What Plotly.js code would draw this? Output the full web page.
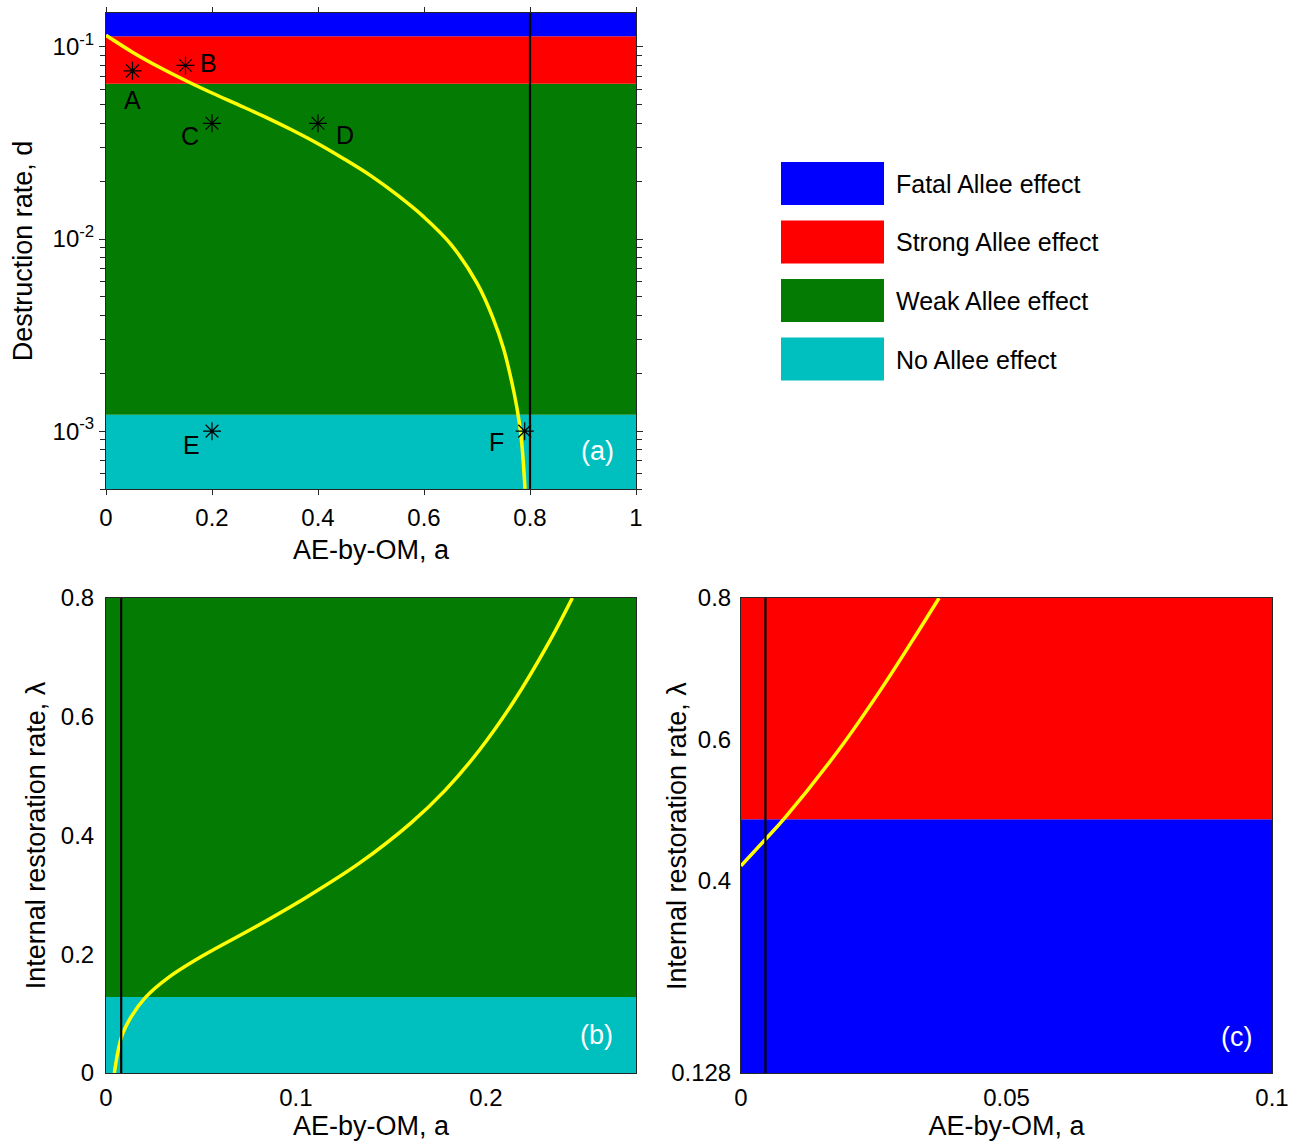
<!DOCTYPE html>
<html><head><meta charset="utf-8">
<script src="https://cdn.plot.ly/plotly-3.0.1.min.js"></script>
<style>body{margin:0;padding:0;background:#fff}#chart{width:1302px;height:1143px}</style>
</head><body><div id="chart"></div>
<script>
// ---------- Panel (a): destruction rate d vs AE-by-OM a ----------
const curveA_a = [0, 0.05, 0.10, 0.15, 0.20, 0.25, 0.30, 0.35, 0.40, 0.45, 0.50, 0.55, 0.60, 0.65, 0.70, 0.73, 0.75, 0.77, 0.78, 0.785, 0.7906];
const curveA_d = [0.1148, 0.0938, 0.0785, 0.0668, 0.0575, 0.0499, 0.0432, 0.0370, 0.0313, 0.0260, 0.0213, 0.0169, 0.0130, 0.00944, 0.00589, 0.00389, 0.00269, 0.00158, 0.00110, 0.000832, 0.000501];
const bandA_edges = [5e-4, 0.001217, 0.0643, 0.1135, 0.15];
const bandA_classes = ['No', 'Weak', 'Strong', 'Fatal'];
const pointLabels = ['A', 'B', 'C', 'D', 'E', 'F'];
const points_a = [0.05, 0.15, 0.2, 0.4, 0.2, 0.79];
const points_d = [0.075, 0.08, 0.04, 0.04, 0.001, 0.001];
const vlineA = 0.8;
const xTicksA = [0, 0.2, 0.4, 0.6, 0.8, 1];
const xTickTextA = ['0', '0.2', '0.4', '0.6', '0.8', '1'];
const yTicksA = [0.001, 0.01, 0.1];
const yTickTextA = ['10<sup>-3</sup>', '10<sup>-2</sup>', '10<sup>-1</sup>'];

// ---------- Panel (b): internal restoration rate vs a ----------
const curveB_a = [0.0044, 0.0082, 0.0133, 0.0208, 0.0335, 0.0516, 0.0788, 0.106, 0.1332, 0.1603, 0.1785, 0.1966, 0.2147, 0.2328, 0.2455];
const curveB_l = [0.0, 0.061, 0.095, 0.1274, 0.1622, 0.1987, 0.2464, 0.297, 0.353, 0.4205, 0.476, 0.544, 0.626, 0.723, 0.80];
const bandB_edges = [0, 0.128, 0.8];
const bandB_classes = ['No', 'Weak'];
const vlineB = 0.008;
const xRangeB = [0, 0.279];
const xTicksB = [0, 0.1, 0.2];
const xTickTextB = ['0', '0.1', '0.2'];
const yTicksB = [0, 0.2, 0.4, 0.6, 0.8];
const yTickTextB = ['0', '0.2', '0.4', '0.6', '0.8'];

// ---------- Panel (c) ----------
const curveC_a = [0, 0.0046, 0.0081, 0.0185, 0.0262, 0.0323, 0.0373];
const curveC_l = [0.421, 0.4585, 0.4875, 0.586, 0.669, 0.740, 0.80];
const bandC_edges = [0.128, 0.487, 0.8];
const bandC_classes = ['Fatal', 'Strong'];
const vlineC = 0.0046;
const xRangeC = [0, 0.1];
const xTicksC = [0, 0.05, 0.1];
const xTickTextC = ['0', '0.05', '0.1'];
const yTicksC = [0.128, 0.4, 0.6, 0.8];
const yTickTextC = ['0.128', '0.4', '0.6', '0.8'];

// ---------- Legend ----------
const legendClasses = ['Fatal', 'Strong', 'Weak', 'No'];
const legendLabels = ['Fatal Allee effect', 'Strong Allee effect', 'Weak Allee effect', 'No Allee effect'];

const classColor = {Fatal: '#0000ff', Strong: '#ff0000', Weak: '#047c04', No: '#00bfbf'};
const FONT = 'Arial, "Liberation Sans", sans-serif';
const W = 1302, H = 1143;
const px = v => v / W, py = v => 1 - v / H;

const traces = [];
function bands(edges, classes, xr, xa, ya) {
  for (let i = 0; i < classes.length; i++) {
    traces.push({type: 'scatter', mode: 'lines', xaxis: xa, yaxis: ya,
      x: [xr[0], xr[1], xr[1], xr[0], xr[0]],
      y: [edges[i], edges[i], edges[i + 1], edges[i + 1], edges[i]],
      fill: 'toself', fillcolor: classColor[classes[i]], line: {width: 0},
      hoverinfo: 'skip', showlegend: false});
  }
}
bands(bandA_edges, bandA_classes, [0, 1], 'x', 'y');
bands(bandB_edges, bandB_classes, xRangeB, 'x2', 'y2');
bands(bandC_edges, bandC_classes, xRangeC, 'x3', 'y3');

function curve(x, y, xa, ya) {
  traces.push({type: 'scatter', mode: 'lines', x: x, y: y, xaxis: xa, yaxis: ya,
    line: {color: '#ffff00', width: 3.5, shape: 'spline', smoothing: 1}, showlegend: false});
}
function vline(v, yr, xa, ya) {
  traces.push({type: 'scatter', mode: 'lines', x: [v, v], y: yr, xaxis: xa, yaxis: ya,
    line: {color: '#000000', width: 2.2}, showlegend: false});
}
curve(curveA_a, curveA_d, 'x', 'y');
vline(vlineA, [bandA_edges[0], bandA_edges[bandA_edges.length - 1]], 'x', 'y');
curve(curveB_a, curveB_l, 'x2', 'y2');
vline(vlineB, [bandB_edges[0], bandB_edges[bandB_edges.length - 1]], 'x2', 'y2');
curve(curveC_a, curveC_l, 'x3', 'y3');
vline(vlineC, [bandC_edges[0], bandC_edges[bandC_edges.length - 1]], 'x3', 'y3');

traces.push({type: 'scatter', mode: 'markers', x: points_a, y: points_d, xaxis: 'x', yaxis: 'y',
  marker: {symbol: 'asterisk-open', size: 15, color: '#000', line: {color: '#000', width: 1.2}},
  text: pointLabels, showlegend: false});

// annotations
const labelShift = {A: [0, -29], B: [23, 2], C: [-22, -13], D: [27, -12], E: [-21, -14], F: [-28, -11]};
const annotations = pointLabels.map((l, i) => ({
  xref: 'x', yref: 'y', x: points_a[i], y: Math.log10(points_d[i]), text: l, showarrow: false,
  xanchor: 'center', yanchor: 'middle',
  xshift: labelShift[l][0], yshift: labelShift[l][1], font: {family: FONT, size: 25, color: '#000'}
}));
const panelTag = (t, x, y) => ({xref: 'paper', yref: 'paper', x: px(x), y: py(y), xanchor: 'center', yanchor: 'middle',
  text: t, showarrow: false, font: {family: FONT, size: 27, color: '#fff'}});
annotations.push(panelTag('(a)', 597, 451));
annotations.push(panelTag('(b)', 596, 1035));
annotations.push(panelTag('(c)', 1236, 1037));
// y title of panel (c), placed as in the reference (next to the 0.4–0.8 labels)
annotations.push({xref: 'paper', yref: 'paper', x: px(677), y: py(836), xanchor: 'center', yanchor: 'middle',
  text: 'Internal restoration rate, λ', textangle: -90,
  showarrow: false, font: {family: FONT, size: 27, color: '#000'}});

const shapes = [];
legendClasses.forEach((c, i) => {
  const top = 162 + i * 58.5;
  shapes.push({type: 'rect', xref: 'paper', yref: 'paper', x0: px(781), x1: px(884), y0: py(top), y1: py(top + 43),
    fillcolor: classColor[c], line: {width: 0}});
  annotations.push({xref: 'paper', yref: 'paper', x: px(894), y: py(top + 22), xanchor: 'left', yanchor: 'middle',
    text: legendLabels[i], showarrow: false, font: {family: FONT, size: 25, color: '#000'}});
});

const tickFont = {family: FONT, size: 24, color: '#000'};
const titleFont = {family: FONT, size: 27, color: '#000'};
const minorLog = [];
[1e-4, 1e-3, 1e-2].forEach(dec => { for (let k = 2; k <= 9; k++) minorLog.push(k * dec); });

const layout = {
  width: W, height: H, margin: {l: 0, r: 0, t: 0, b: 0}, paper_bgcolor: '#fff', plot_bgcolor: '#fff',
  showlegend: false, annotations: annotations, shapes: shapes,
  xaxis: {domain: [px(106), px(636)], range: [0, 1], tickvals: xTicksA, ticktext: xTickTextA, ticks: 'outside', ticklen: 5,
    tickcolor: '#262626', showline: true, linecolor: '#262626', linewidth: 1, mirror: 'ticks', showgrid: false, zeroline: false,
    ticklabelstandoff: 2, tickfont: tickFont, title: {text: 'AE-by-OM, a', font: titleFont, standoff: 10}, anchor: 'y'},
  yaxis: {domain: [py(489), py(13)], type: 'log', range: [Math.log10(bandA_edges[0]), Math.log10(bandA_edges[4])],
    tickvals: yTicksA, ticktext: yTickTextA, ticks: 'outside', ticklen: 6, tickcolor: '#262626',
    minor: {tickvals: minorLog, ticks: 'outside', ticklen: 5, tickcolor: '#262626', showgrid: false},
    showline: true, linecolor: '#262626', linewidth: 1, mirror: 'ticks', showgrid: false, zeroline: false,
    tickfont: tickFont, title: {text: 'Destruction rate, d', font: titleFont, standoff: 12}, anchor: 'x'},
  xaxis2: {domain: [px(106), px(636)], range: xRangeB, tickvals: xTicksB, ticktext: xTickTextB, ticks: '',
    showline: true, linecolor: '#262626', linewidth: 1, mirror: true, showgrid: false, zeroline: false, ticklabelstandoff: 3,
    tickfont: tickFont, title: {text: 'AE-by-OM, a', font: titleFont, standoff: 5}, anchor: 'y2'},
  yaxis2: {domain: [py(1073), py(598)], range: [0, 0.8], tickvals: yTicksB, ticktext: yTickTextB, ticks: '',
    showline: true, linecolor: '#262626', linewidth: 1, mirror: true, showgrid: false, zeroline: false, ticklabelstandoff: 6,
    tickfont: tickFont, title: {text: 'Internal restoration rate, λ', font: titleFont, standoff: 7}, anchor: 'x2'},
  xaxis3: {domain: [px(741), px(1272)], range: xRangeC, tickvals: xTicksC, ticktext: xTickTextC, ticks: '',
    showline: true, linecolor: '#262626', linewidth: 1, mirror: true, showgrid: false, zeroline: false, ticklabelstandoff: 3,
    tickfont: tickFont, title: {text: 'AE-by-OM, a', font: titleFont, standoff: 5}, anchor: 'y3'},
  yaxis3: {domain: [py(1073), py(598)], range: [0.128, 0.8], tickvals: yTicksC, ticktext: yTickTextC, ticks: '',
    showline: true, linecolor: '#262626', linewidth: 1, mirror: true, showgrid: false, zeroline: false, ticklabelstandoff: 4,
    tickfont: tickFont, anchor: 'x3'}
};

Plotly.newPlot('chart', traces, layout, {staticPlot: true, displayModeBar: false});
</script></body></html>
